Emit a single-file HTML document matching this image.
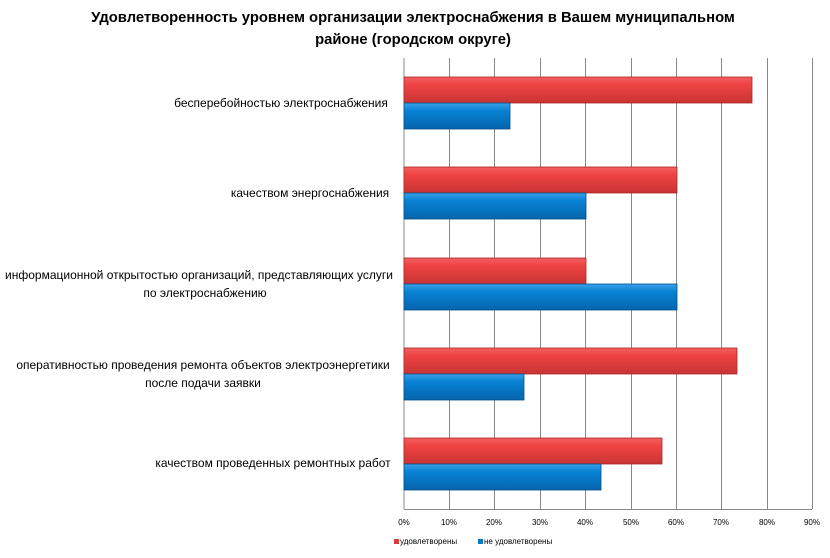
<!DOCTYPE html>
<html><head><meta charset="utf-8"><style>
body{margin:0;background:#fff;}
svg text{font-family:"Liberation Sans","DejaVu Sans",sans-serif;}
</style></head><body>
<svg width="830" height="553" xmlns="http://www.w3.org/2000/svg">
<defs>
<linearGradient id="r" x1="0" y1="0" x2="0" y2="1"><stop offset="0" stop-color="#f26060"/><stop offset="0.3" stop-color="#ef4343"/><stop offset="1" stop-color="#c83434"/></linearGradient>
<linearGradient id="b" x1="0" y1="0" x2="0" y2="1"><stop offset="0" stop-color="#3aa0e6"/><stop offset="0.3" stop-color="#0882d4"/><stop offset="1" stop-color="#0565ac"/></linearGradient>
</defs>
<text x="413" y="22" text-anchor="middle" font-size="14.8" font-weight="bold">Удовлетворенность уровнем организации электроснабжения в Вашем муниципальном</text>
<text x="413" y="44" text-anchor="middle" font-size="14.8" font-weight="bold">районе (городском округе)</text>
<g stroke="#888" stroke-width="1">
<line x1="404" y1="58" x2="404" y2="509"/><line x1="449.5" y1="58" x2="449.5" y2="509"/><line x1="494.5" y1="58" x2="494.5" y2="509"/><line x1="540.5" y1="58" x2="540.5" y2="509"/><line x1="585.5" y1="58" x2="585.5" y2="509"/><line x1="631.5" y1="58" x2="631.5" y2="509"/><line x1="676.5" y1="58" x2="676.5" y2="509"/><line x1="721.5" y1="58" x2="721.5" y2="509"/><line x1="767.5" y1="58" x2="767.5" y2="509"/><line x1="812.5" y1="58" x2="812.5" y2="509"/>
<line x1="404" y1="509.5" x2="812" y2="509.5"/>
</g>
<g stroke-width="0.8">
<rect x="404" y="77" width="348" height="26" fill="url(#r)" stroke="#a82a2a"/>
<rect x="404" y="103" width="106" height="26" fill="url(#b)" stroke="#04518c"/>
<rect x="404" y="167" width="273" height="26" fill="url(#r)" stroke="#a82a2a"/>
<rect x="404" y="193" width="182" height="26" fill="url(#b)" stroke="#04518c"/>
<rect x="404" y="258" width="182" height="26" fill="url(#r)" stroke="#a82a2a"/>
<rect x="404" y="284" width="273" height="26" fill="url(#b)" stroke="#04518c"/>
<rect x="404" y="348" width="333" height="26" fill="url(#r)" stroke="#a82a2a"/>
<rect x="404" y="374" width="120" height="26" fill="url(#b)" stroke="#04518c"/>
<rect x="404" y="438" width="258" height="26" fill="url(#r)" stroke="#a82a2a"/>
<rect x="404" y="464" width="197" height="26" fill="url(#b)" stroke="#04518c"/>
</g>
<g font-size="12" text-anchor="middle" fill="#000">
<text x="281" y="107">бесперебойностью электроснабжения</text>
<text x="310" y="197">качеством энергоснабжения</text>
<text x="199" y="279">информационной открытостью организаций, представляющих услуги</text>
<text x="205" y="297">по электроснабжению</text>
<text x="203" y="369">оперативностью проведения  ремонта объектов  электроэнергетики</text>
<text x="203" y="387">после подачи заявки</text>
<text x="273" y="467">качеством проведенных ремонтных работ</text>
</g>
<g font-size="8" text-anchor="middle">
<text x="404" y="525">0%</text><text x="449" y="525">10%</text><text x="494" y="525">20%</text><text x="540" y="525">30%</text><text x="585" y="525">40%</text><text x="631" y="525">50%</text><text x="676" y="525">60%</text><text x="721" y="525">70%</text><text x="767" y="525">80%</text><text x="812" y="525">90%</text>
</g>
<rect x="394" y="539" width="5" height="5" fill="#e03c3c"/>
<text x="400" y="544" font-size="8">удовлетворены</text>
<rect x="478" y="539" width="5" height="5" fill="#0a76c4"/>
<text x="484" y="544" font-size="8">не удовлетворены</text>
</svg>
</body></html>
